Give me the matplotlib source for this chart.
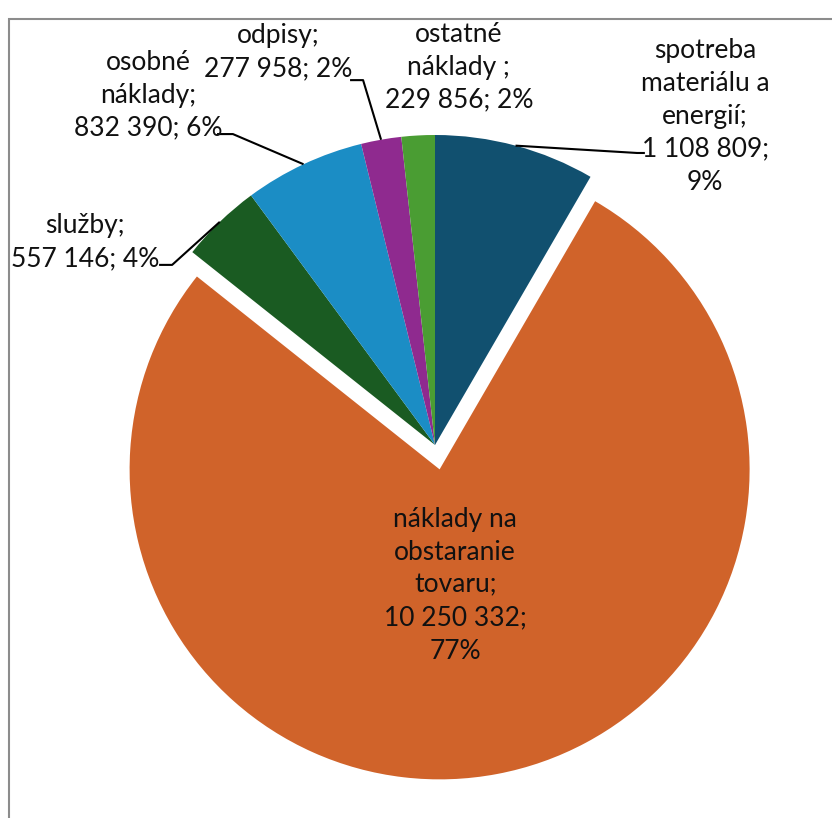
import numpy as np
import matplotlib
matplotlib.use("Agg")
import matplotlib.pyplot as plt
from matplotlib.patches import Rectangle

plt.rcParams['font.family'] = ['Lato', 'DejaVu Sans']

# data
categories = ["spotreba\nmateriálu a\nenergií;", "náklady na\nobstaranie\ntovaru;", "služby;",
              "osobné\nnáklady;", "odpisy;", "ostatné\nnáklady ;"]
values = [1108809, 10250332, 557146, 832390, 277958, 229856]
percents = [9, 77, 4, 6, 2, 2]
colors = ["#11506f", "#d0632a", "#1a5b22", "#1b8dc5", "#8f2a8f", "#4a9d33"]
explode = [0, 0.08, 0, 0, 0, 0]


def fmt(v):
    return f"{v:,}".replace(",", " ")


labels = [
    f"{categories[0]}\n{fmt(values[0])};\n{percents[0]}%",
    f"{categories[1]}\n{fmt(values[1])};\n{percents[1]}%",
    f"{categories[2]}\n{fmt(values[2])}; {percents[2]}%",
    f"{categories[3]}\n{fmt(values[3])}; {percents[3]}%",
    f"{categories[4]}\n{fmt(values[4])}; {percents[4]}%",
    f"{categories[5]}\n{fmt(values[5])}; {percents[5]}%",
]

# label layout (data units, pie radius = 1)
label_pos = [(0.871, 1.061), (0.065, -0.452), (-1.129, 0.655),
             (-0.926, 1.129), (-0.506, 1.268), (0.077, 1.219)]
# leader elbow / end points, None = no leader
leaders = [((0.652, 0.942), (0.677, 0.942)), None, ((-0.848, 0.581), (-0.890, 0.581)),
           ((-0.652, 1.003), (-0.703, 1.003)), ((-0.232, 1.177), (-0.274, 1.177)), None]

W, H = 832, 818
cx, cy, R = 435, 445, 310

fig = plt.figure(figsize=(W / 100, H / 100), dpi=100)
ax = fig.add_axes([0, 0, 1, 1])

wedges, _ = ax.pie(values, colors=colors, explode=explode, startangle=90,
                   counterclock=False, radius=1, center=(0, 0),
                   wedgeprops=dict(linewidth=0))
ax.set_xlim(-cx / R, (W - cx) / R)
ax.set_ylim(-(H - cy) / R, cy / R)
ax.set_aspect('equal')
ax.axis('off')

for w, lab, pos, ld in zip(wedges, labels, label_pos, leaders):
    ax.text(pos[0], pos[1], lab, ha='center', va='center', fontsize=19,
            linespacing=1.4, color='#111111')
    if ld is None:
        continue
    ang = np.deg2rad((w.theta1 + w.theta2) / 2)
    sx, sy = np.cos(ang), np.sin(ang)
    (ex, ey), (tx, ty) = ld
    ax.plot([sx, ex, tx], [sy, ey, ty], color='black', lw=1.5, solid_capstyle='butt')

# chart area border (only top/left visible)
fig.patches.append(Rectangle((8.5 / W, -0.2), 1.5, 1.2 - 18.5 / H, transform=fig.transFigure,
                             fill=False, edgecolor='#8c8c8c', lw=1.5))

fig.savefig("out.png", dpi=100)
